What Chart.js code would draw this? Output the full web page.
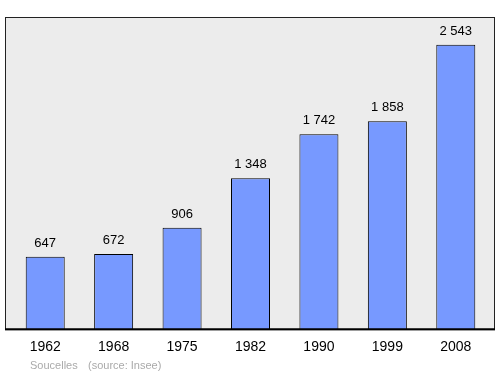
<!DOCTYPE html>
<html lang="en">
<head>
  <meta charset="UTF-8">
  <title>Soucelles population</title>
  <script src="https://cdn.jsdelivr.net/npm/chart.js"></script>
  <style>
    html, body { margin: 0; padding: 0; background: #fff; }
    #wrap { width: 500px; height: 374px; }
  </style>
</head>
<body>
  <div id="wrap"><canvas id="popChart" width="500" height="374"></canvas></div>
  <script>
    // census years and population (Insee)
    const years = ['1962', '1968', '1975', '1982', '1990', '1999', '2008'];
    const population = [647, 672, 906, 1348, 1742, 1858, 2543];
    const yMax = 2790;

    const fmt = v => String(v).replace(/\B(?=(\d{3})+(?!\d))/g, ' ');

    // grey frame behind the bars, value labels and source note
    const decor = {
      id: 'decor',
      beforeDraw(chart) {
        const ctx = chart.ctx;
        const a = chart.chartArea;
        ctx.save();
        ctx.fillStyle = '#ececec';
        ctx.fillRect(5, a.top, 490, a.bottom - a.top);
        ctx.strokeStyle = '#222';
        ctx.lineWidth = 1;
        ctx.strokeRect(5.5, a.top + 0.5, 489, a.bottom - a.top);
        ctx.restore();
      },
      afterDatasetsDraw(chart) {
        const ctx = chart.ctx;
        const meta = chart.getDatasetMeta(0);
        const a = chart.chartArea;
        ctx.save();
        ctx.strokeStyle = '#000';
        ctx.lineWidth = 2;
        ctx.beginPath();
        ctx.moveTo(5, a.bottom);
        ctx.lineTo(495, a.bottom);
        ctx.stroke();

        ctx.fillStyle = '#000';
        ctx.font = '13px "Liberation Sans", Arial, sans-serif';
        ctx.textAlign = 'center';
        ctx.textBaseline = 'alphabetic';
        meta.data.forEach((bar, i) => {
          ctx.fillText(fmt(population[i]), bar.x, bar.y - 10);
        });

        ctx.fillStyle = '#aaa';
        ctx.font = '11px "Liberation Sans", Arial, sans-serif';
        ctx.textAlign = 'left';
        ctx.fillText('Soucelles', 30, 369);
        ctx.fillText('(source: Insee)', 88, 369);
        ctx.restore();
      }
    };

    new Chart(document.getElementById('popChart'), {
      type: 'bar',
      data: {
        labels: years,
        datasets: [{
          data: population,
          backgroundColor: '#7799ff',
          borderColor: '#000',
          borderWidth: 1,
          barPercentage: 0.57,
          categoryPercentage: 1
        }]
      },
      options: {
        responsive: false,
        animation: false,
        layout: { padding: { left: 11, right: 10, top: 17, bottom: 8 } },
        plugins: { legend: { display: false }, tooltip: { enabled: false } },
        scales: {
          x: {
            grid: { display: false, drawTicks: false },
            border: { display: false },
            ticks: {
              color: '#000',
              padding: 10,
              font: { family: '"Liberation Sans", Arial, sans-serif', size: 14 }
            }
          },
          y: {
            display: false,
            min: 0,
            max: yMax
          }
        }
      },
      plugins: [decor]
    });
  </script>
</body>
</html>
